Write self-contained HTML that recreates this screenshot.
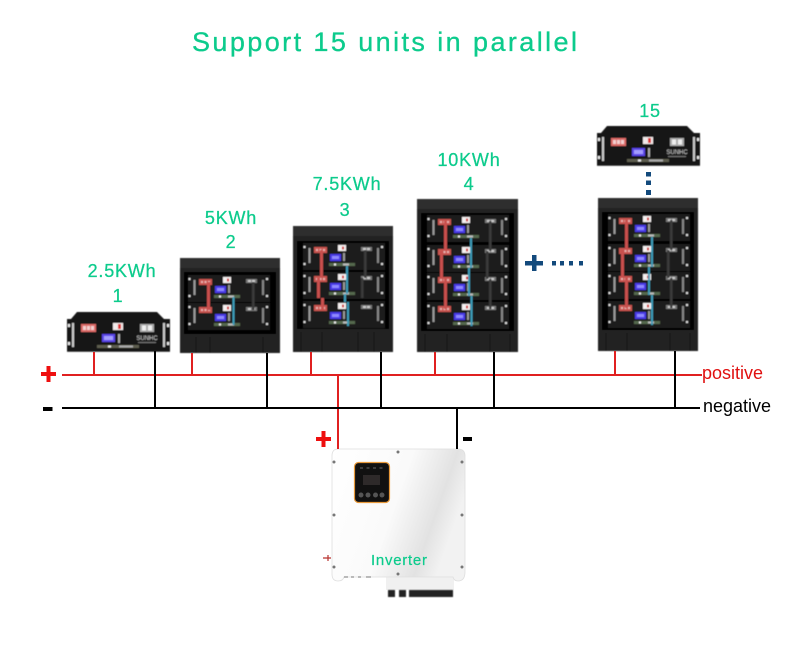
<!DOCTYPE html>
<html><head><meta charset="utf-8"><style>
html,body{margin:0;padding:0;background:#fff}
svg{display:block}
text{font-family:"Liberation Sans",sans-serif}
.g{fill:#0ccb8c;stroke:#0ccb8c;stroke-width:.25px;font-size:18px;letter-spacing:.8px;text-anchor:middle}
</style></head><body>
<svg width="790" height="651" viewBox="0 0 790 651" xmlns="http://www.w3.org/2000/svg">
<defs>
<filter id="b" x="-10%" y="-10%" width="120%" height="120%"><feGaussianBlur stdDeviation="0.5"/></filter>
<linearGradient id="ig" x1="0" y1="0" x2="1" y2="0.35"><stop offset="0" stop-color="#fff"/><stop offset="0.55" stop-color="#fafafa"/><stop offset="0.85" stop-color="#e2e2e2"/><stop offset="1" stop-color="#f2f2f2"/></linearGradient>
<g id="m">
<rect x="0" y="0" width="82" height="27" fill="#1a1a1a"/>
<rect x="5.500" y="5" width="2" height="15" fill="#999"/>
<rect x="74" y="5" width="2" height="15" fill="#888"/>
<rect x="0.500" y="3" width="2" height="2" fill="#ddd"/><rect x="0.500" y="20" width="2" height="2" fill="#ddd"/>
<rect x="78" y="3" width="2" height="2" fill="#ddd"/><rect x="78" y="20" width="2" height="2" fill="#ddd"/>
<rect x="11" y="4" width="13" height="6" fill="#c9544f"/>
<rect x="13" y="6" width="2" height="2" fill="#e8b0ae"/><rect x="16.500" y="6" width="2" height="2" fill="#e8b0ae"/><rect x="20" y="6" width="2" height="2" fill="#e8b0ae"/>
<rect x="35" y="2" width="8" height="6" fill="#f4f0f0"/><rect x="39" y="3.500" width="2" height="3" fill="#c22"/>
<rect x="27" y="11" width="11" height="7" fill="#4a3be8"/><rect x="29" y="13" width="7" height="3" fill="#8f88ff"/>
<rect x="40" y="10" width="2" height="8" fill="#999"/>
<rect x="58" y="4" width="11" height="4" fill="#777"/>
<rect x="60" y="5" width="3" height="2" fill="#ccc"/><rect x="64" y="5" width="3" height="2" fill="#ccc"/>
<rect x="26" y="20" width="26" height="3" fill="#55694e"/>
<rect x="31" y="20.500" width="2" height="2" fill="#eee"/><rect x="40" y="20.500" width="6" height="2" fill="#bbb"/>
</g>
<g id="r">
<path d="M10 0H90L97 7H103V39.700H0V7H4Z" fill="#161616"/>
<rect x="5" y="11" width="2" height="24" fill="#ccc"/>
<rect x="96" y="11" width="2" height="24" fill="#ccc"/>
<rect x="1" y="12" width="2" height="3" fill="#eee"/><rect x="1" y="30" width="2" height="3" fill="#eee"/>
<rect x="100" y="12" width="2" height="3" fill="#eee"/><rect x="100" y="30" width="2" height="3" fill="#eee"/>
<rect x="14" y="12" width="15" height="8" fill="#dd6a68"/>
<rect x="16" y="14" width="3" height="4" fill="#f3d0d0"/><rect x="20" y="14" width="3" height="4" fill="#f3d0d0"/><rect x="24" y="14" width="3" height="4" fill="#f3d0d0"/>
<rect x="46" y="11" width="10" height="7" fill="#f2eaea"/><rect x="51" y="12" width="3" height="5" fill="#d33"/>
<rect x="35" y="22" width="13" height="8" fill="#5a44e8"/><rect x="37" y="24" width="9" height="4" fill="#a39cff"/>
<rect x="51" y="22" width="2" height="9" fill="#aaa"/>
<rect x="73" y="12" width="14" height="8" fill="#aaa"/>
<rect x="75" y="13.500" width="4" height="5" fill="#eee"/><rect x="81" y="13.500" width="4" height="5" fill="#eee"/>
<text x="80" y="28" font-size="6" fill="#ccc" text-anchor="middle">SUNHC</text>
<rect x="71" y="30" width="18" height="1" fill="#777"/>
<rect x="30" y="33" width="42" height="3" fill="#5d5d50"/>
<rect x="41" y="33.500" width="3" height="2" fill="#eee"/><rect x="52" y="33.500" width="14" height="2" fill="#aaa"/>
</g>
</defs>

<text x="192" y="51" font-size="27" fill="#0ccb8c" stroke="#0ccb8c" stroke-width=".3" textLength="385" lengthAdjust="spacing">Support 15 units in parallel</text>

<text class="g" x="122" y="277">2.5KWh</text><text class="g" x="118" y="302">1</text>
<text class="g" x="231" y="224">5KWh</text><text class="g" x="231" y="248">2</text>
<text class="g" x="347" y="190">7.5KWh</text><text class="g" x="345" y="216">3</text>
<text class="g" x="469" y="166">10KWh</text><text class="g" x="469" y="190">4</text>
<text class="g" x="650" y="117">15</text>

<g filter="url(#b)">
<use href="#r" x="67" y="312"/>
<use href="#r" x="597" y="126"/>

<!-- cabinet 2 -->
<rect x="180" y="258" width="100" height="95" fill="#222"/>
<rect x="180" y="258" width="100" height="10" fill="#2d2d2d"/>
<rect x="184" y="272" width="92" height="62" fill="#050505"/>
<use href="#m" x="188" y="275"/><use href="#m" x="188" y="303"/>
<rect x="207" y="282" width="3" height="28" fill="#c9504d"/>
<rect x="232.500" y="297" width="2" height="28" fill="#3e9cb8"/>
<rect x="252" y="282" width="2.500" height="28" fill="#3a3a3a"/>
<path d="M196 337V353M210 337V353M263 337V353" stroke="#151515" stroke-width="1"/>

<!-- cabinet 3 -->
<rect x="293" y="226" width="100" height="126" fill="#222"/>
<rect x="293" y="226" width="100" height="10" fill="#2d2d2d"/>
<rect x="297" y="241" width="92" height="88" fill="#050505"/>
<use href="#m" x="303" y="243"/><use href="#m" x="303" y="272"/><use href="#m" x="303" y="301"/>
<rect x="320" y="250" width="3" height="28" fill="#c9504d"/>
<rect x="317" y="278" width="3" height="20" fill="#c9504d"/>
<rect x="321" y="298" width="3" height="12" fill="#c9504d"/>
<rect x="346" y="266" width="2" height="28" fill="#3e9cb8"/>
<rect x="344" y="294" width="2" height="8" fill="#3e9cb8"/>
<rect x="347" y="302" width="2" height="24" fill="#3e9cb8"/>
<rect x="364" y="250" width="2.500" height="28" fill="#3a3a3a"/>
<rect x="361" y="278" width="2.500" height="20" fill="#3a3a3a"/>
<path d="M301 332V352M322 332V352M358 332V352M374 332V352" stroke="#151515" stroke-width="1"/>

<!-- cabinet 4 -->
<rect x="417" y="199" width="101" height="153" fill="#222"/>
<rect x="417" y="199" width="101" height="10" fill="#2d2d2d"/>
<rect x="421" y="213" width="93" height="118" fill="#050505"/>
<use href="#m" x="427" y="215"/><use href="#m" x="427" y="245"/><use href="#m" x="427" y="273"/><use href="#m" x="427" y="302"/>
<rect x="444" y="221" width="3" height="30" fill="#c9504d"/>
<rect x="440" y="251" width="3" height="28" fill="#c9504d"/>
<rect x="444" y="279" width="3" height="30" fill="#c9504d"/>
<rect x="470" y="238" width="2" height="30" fill="#3e9cb8"/>
<rect x="468" y="268" width="2" height="28" fill="#3e9cb8"/>
<rect x="470.500" y="296" width="2" height="30" fill="#3e9cb8"/>
<rect x="489" y="221" width="2.500" height="30" fill="#3a3a3a"/>
<rect x="486" y="251" width="2.500" height="28" fill="#3a3a3a"/>
<rect x="489" y="279" width="2.500" height="30" fill="#3a3a3a"/>
<path d="M425 334V352M447 334V352M490 334V352M510 334V352" stroke="#151515" stroke-width="1"/>

<!-- cabinet 15 -->
<rect x="598" y="198" width="100" height="153" fill="#222"/>
<rect x="598" y="198" width="100" height="10" fill="#2d2d2d"/>
<rect x="602" y="212" width="92" height="118" fill="#050505"/>
<use href="#m" x="608" y="214"/><use href="#m" x="608" y="244"/><use href="#m" x="608" y="272"/><use href="#m" x="608" y="301"/>
<rect x="625" y="220" width="3" height="30" fill="#c9504d"/>
<rect x="621" y="250" width="3" height="28" fill="#c9504d"/>
<rect x="625" y="278" width="3" height="30" fill="#c9504d"/>
<rect x="651" y="237" width="2" height="30" fill="#3e9cb8"/>
<rect x="648" y="267" width="2" height="28" fill="#3e9cb8"/>
<rect x="651" y="295" width="2" height="30" fill="#3e9cb8"/>
<rect x="670" y="220" width="2.500" height="30" fill="#3a3a3a"/>
<rect x="667" y="250" width="2.500" height="28" fill="#3a3a3a"/>
<rect x="670" y="278" width="2.500" height="30" fill="#3a3a3a"/>
<path d="M606 333V351M627 333V351M670 333V351M690 333V351" stroke="#151515" stroke-width="1"/>
</g>

<!-- dots -->
<g fill="#134a7c">
<rect x="646" y="172" width="5" height="4.500"/><rect x="646" y="180.500" width="5" height="4.500"/><rect x="646" y="190" width="5" height="5"/>
<rect x="525" y="261" width="18" height="4.500"/><rect x="532" y="255" width="4.500" height="16"/>
<rect x="552" y="261" width="4" height="4.500"/><rect x="560" y="261" width="4" height="4.500"/><rect x="569" y="261" width="4" height="4.500"/><rect x="579" y="261" width="4" height="4.500"/>
</g>

<!-- inverter -->
<rect x="386" y="576" width="68" height="14" fill="#f0f0f0"/>
<path d="M338 449H458Q465 449 465 456V572Q465 581 458 581Q454 581 453 577H344Q343 581 338 581Q332 581 332 574V456Q332 449 338 449Z" fill="url(#ig)" stroke="#dedede" stroke-width="0.800"/>
<g fill="#222" filter="url(#b)">
<rect x="388" y="590" width="7" height="7"/><rect x="399" y="590" width="7" height="7"/><rect x="409" y="590" width="44" height="7"/>
</g>
<g fill="#777">
<circle cx="398" cy="452" r="1.500"/><circle cx="334" cy="462" r="1.500"/><circle cx="462" cy="462" r="1.500"/>
<circle cx="334" cy="515" r="1.500"/><circle cx="462" cy="515" r="1.500"/><circle cx="334" cy="567" r="1.500"/><circle cx="462" cy="567" r="1.500"/><circle cx="398" cy="574" r="1.500"/>
</g>
<path d="M344 577H348M351 577H354M358 577H361M366 577H371" stroke="#777" stroke-width="1"/>
<rect x="354.500" y="462.500" width="35" height="40" rx="4" fill="#111" stroke="#e8993a" stroke-width="1.200"/>
<rect x="363" y="475" width="17" height="10" fill="#2e2a2a"/>
<path d="M360 468H383" stroke="#666" stroke-width="1" stroke-dasharray="3 3.500"/>
<g fill="#555"><circle cx="361" cy="495" r="2.500"/><circle cx="368" cy="495" r="2.500"/><circle cx="375.500" cy="495" r="2.500"/><circle cx="382" cy="495" r="2.500"/></g>
<path d="M323 558H331M328 555V561" stroke="#b8322f" stroke-width="1.200"/>
<text x="371" y="565" font-size="15" fill="#0ccb8c" stroke="#0ccb8c" stroke-width=".2" textLength="56" lengthAdjust="spacing">Inverter</text>

<!-- wires -->
<g fill="none" stroke-width="2">
<path d="M94 352V375M192 353V375M311 352V375M435 352V375M615 351V375M338 375V449M62 375H702" stroke="#e02020"/>
<path d="M155 351V408M267 353V408M381 352V408M494 352V408M675 351V408M457 408V449M62 408H700" stroke="#000"/>
</g>
<rect x="41" y="372" width="15" height="4" fill="#ee0f0f"/><rect x="46.500" y="366" width="4" height="16" fill="#ee0f0f"/>
<rect x="43" y="407" width="9.500" height="4" fill="#000"/>
<rect x="316" y="437" width="15" height="4" fill="#ee0f0f"/><rect x="321.500" y="431" width="4" height="16" fill="#ee0f0f"/>
<rect x="463" y="437" width="9" height="4" fill="#000"/>

<text x="702" y="379" font-size="18" fill="#e01010" textLength="61" lengthAdjust="spacingAndGlyphs">positive</text>
<text x="703" y="412" font-size="18" fill="#000" textLength="68" lengthAdjust="spacingAndGlyphs">negative</text>
</svg>
</body></html>
